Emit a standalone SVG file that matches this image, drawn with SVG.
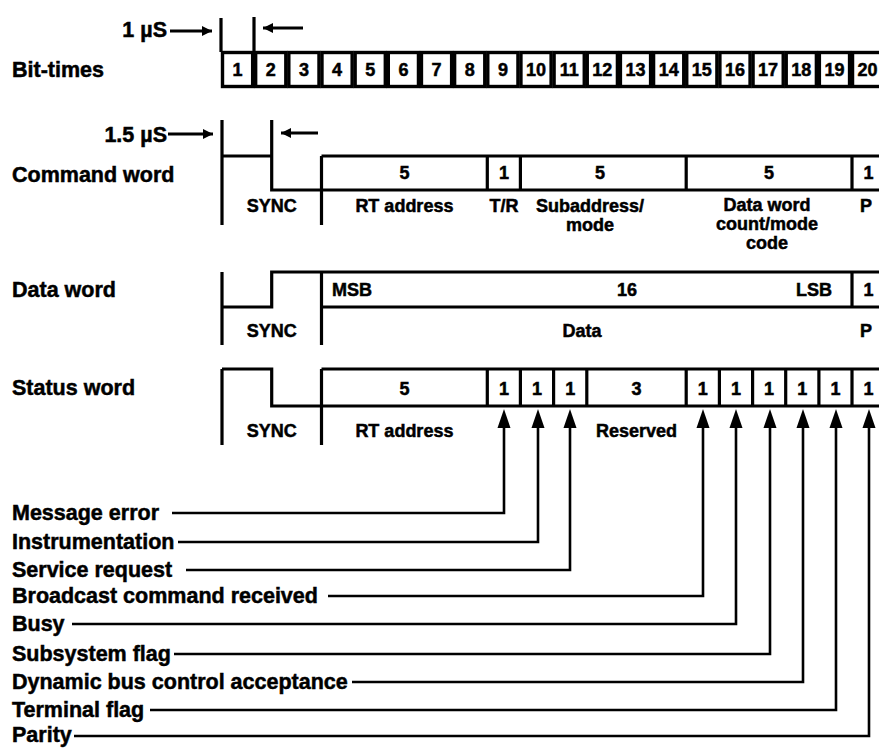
<svg xmlns="http://www.w3.org/2000/svg" width="879" height="749" viewBox="0 0 879 749">
<style>
.t{font-family:"Liberation Sans",Arial,sans-serif;font-weight:bold;fill:#000;stroke:#000;stroke-width:0.5}
.lbl{font-size:21.5px}
.n{font-size:18px;text-anchor:middle}
.m{font-size:18px;text-anchor:middle}
.ln{stroke:#000;stroke-width:3.2;fill:none}
.cell{stroke:#000;stroke-width:3.4;fill:#fff}
.ld{stroke:#000;stroke-width:2.6;fill:none}
</style>
<defs>
<marker id="ah" viewBox="0 0 10 10" refX="10" refY="5" markerWidth="12" markerHeight="10" markerUnits="userSpaceOnUse" orient="auto"><path d="M0,0L10,5L0,10z" fill="#000"/></marker>
</defs>
<rect width="879" height="749" fill="#fff"/>

<g id="bit-times">
<text class="t lbl" x="12" y="77">Bit-times</text>
<text class="t lbl" x="167" y="37" text-anchor="end">1 µS</text>
<path class="ln" d="M221,18V52M254,17V52"/>
<path class="ln" d="M170,31H212" marker-end="url(#ah)"/>
<path class="ln" d="M303,28H263" marker-end="url(#ah)"/>
<rect class="cell" x="222.5" y="52.5" width="30.16" height="34"/>
<rect class="cell" x="255.66" y="52.5" width="30.16" height="34"/>
<rect class="cell" x="288.82" y="52.5" width="30.16" height="34"/>
<rect class="cell" x="321.98" y="52.5" width="30.16" height="34"/>
<rect class="cell" x="355.14" y="52.5" width="30.16" height="34"/>
<rect class="cell" x="388.3" y="52.5" width="30.16" height="34"/>
<rect class="cell" x="421.46" y="52.5" width="30.16" height="34"/>
<rect class="cell" x="454.62" y="52.5" width="30.16" height="34"/>
<rect class="cell" x="487.78" y="52.5" width="30.16" height="34"/>
<rect class="cell" x="520.94" y="52.5" width="30.16" height="34"/>
<rect class="cell" x="554.1" y="52.5" width="30.16" height="34"/>
<rect class="cell" x="587.26" y="52.5" width="30.16" height="34"/>
<rect class="cell" x="620.42" y="52.5" width="30.16" height="34"/>
<rect class="cell" x="653.58" y="52.5" width="30.16" height="34"/>
<rect class="cell" x="686.74" y="52.5" width="30.16" height="34"/>
<rect class="cell" x="719.9" y="52.5" width="30.16" height="34"/>
<rect class="cell" x="753.06" y="52.5" width="30.16" height="34"/>
<rect class="cell" x="786.22" y="52.5" width="30.16" height="34"/>
<rect class="cell" x="819.38" y="52.5" width="30.16" height="34"/>
<rect class="cell" x="852.54" y="52.5" width="30.16" height="34"/>
<text class="t n" x="237.6" y="76">1</text>
<text class="t n" x="270.7" y="76">2</text>
<text class="t n" x="303.9" y="76">3</text>
<text class="t n" x="337.1" y="76">4</text>
<text class="t n" x="370.2" y="76">5</text>
<text class="t n" x="403.4" y="76">6</text>
<text class="t n" x="436.5" y="76">7</text>
<text class="t n" x="469.7" y="76">8</text>
<text class="t n" x="502.9" y="76">9</text>
<text class="t n" x="536" y="76">10</text>
<text class="t n" x="569.2" y="76">11</text>
<text class="t n" x="602.3" y="76">12</text>
<text class="t n" x="635.5" y="76">13</text>
<text class="t n" x="668.7" y="76">14</text>
<text class="t n" x="701.8" y="76">15</text>
<text class="t n" x="735" y="76">16</text>
<text class="t n" x="768.1" y="76">17</text>
<text class="t n" x="801.3" y="76">18</text>
<text class="t n" x="834.5" y="76">19</text>
<text class="t n" x="867.6" y="76">20</text>
</g>

<g id="command-word">
<text class="t lbl" x="12" y="182">Command word</text>
<text class="t lbl" x="167" y="142" text-anchor="end">1.5 µS</text>
<path class="ln" d="M168,134H213" marker-end="url(#ah)"/>
<path class="ln" d="M318,133H281" marker-end="url(#ah)"/>
<path class="ln" d="M222,120V225M222,156H271.7M271.7,120V190H885M321.5,156V225M321.5,156H885M487.3,156V190M520.4,156V190M686.2,156V190M852,156V190"/>
<text class="t n" x="404.4" y="179">5</text>
<text class="t n" x="503.9" y="179">1</text>
<text class="t n" x="600" y="179">5</text>
<text class="t n" x="769.1" y="179">5</text>
<text class="t n" x="868.6" y="179">1</text>
<text class="t m" x="271.7" y="212">SYNC</text>
<text class="t m" x="404.4" y="212">RT address</text>
<text class="t m" x="503.9" y="212">T/R</text>
<text class="t m" x="590" y="212">Subaddress/</text>
<text class="t m" x="590" y="231">mode</text>
<text class="t m" x="767" y="211">Data word</text>
<text class="t m" x="767" y="230">count/mode</text>
<text class="t m" x="767" y="249">code</text>
<text class="t m" x="866" y="212">P</text>
</g>

<g id="data-word">
<text class="t lbl" x="12" y="297">Data word</text>
<path class="ln" d="M222,272V345M222,307H271.7V272H885M321.5,272V345M321.5,307H885M852,272V307"/>
<text class="t" font-size="18" x="332" y="296">MSB</text>
<text class="t n" x="627" y="296">16</text>
<text class="t" font-size="18" x="832" y="296" text-anchor="end">LSB</text>
<text class="t n" x="868.6" y="296">1</text>
<text class="t m" x="271.7" y="337">SYNC</text>
<text class="t m" x="582" y="337">Data</text>
<text class="t m" x="866" y="337">P</text>
</g>

<g id="status-word">
<text class="t lbl" x="12" y="395">Status word</text>
<path class="ln" d="M222,369V445M222,369H271.7V406H885M321.5,369V445M321.5,369H885M487.3,369V406M520.4,369V406M553.6,369V406M586.8,369V406M686.2,369V406M719.4,369V406M752.6,369V406M785.7,369V406M818.9,369V406M852,369V406"/>
<text class="t n" x="404.4" y="394.5">5</text>
<text class="t n" x="503.9" y="394.5">1</text>
<text class="t n" x="537" y="394.5">1</text>
<text class="t n" x="570.2" y="394.5">1</text>
<text class="t n" x="636.5" y="394.5">3</text>
<text class="t n" x="702.8" y="394.5">1</text>
<text class="t n" x="736" y="394.5">1</text>
<text class="t n" x="769.1" y="394.5">1</text>
<text class="t n" x="802.3" y="394.5">1</text>
<text class="t n" x="835.5" y="394.5">1</text>
<text class="t n" x="868.6" y="394.5">1</text>
<text class="t m" x="271.7" y="437">SYNC</text>
<text class="t m" x="404.4" y="437">RT address</text>
<text class="t m" x="636.5" y="437">Reserved</text>
</g>

<g id="field-labels">
<text class="t lbl" x="12" y="520">Message error</text>
<text class="t lbl" x="12" y="549">Instrumentation</text>
<text class="t lbl" x="12" y="577">Service request</text>
<text class="t lbl" x="12" y="603">Broadcast command received</text>
<text class="t lbl" x="12" y="631">Busy</text>
<text class="t lbl" x="12" y="661">Subsystem flag</text>
<text class="t lbl" x="12" y="689">Dynamic bus control acceptance</text>
<text class="t lbl" x="12" y="717">Terminal flag</text>
<text class="t lbl" x="12" y="742" font-size="20.5">Parity</text>
</g>

<g id="connectors">
<path class="ld" d="M172,513H504V426"/>
<path class="ld" d="M178,542H538V426"/>
<path class="ld" d="M186,570H570V426"/>
<path class="ld" d="M328,596H703V426"/>
<path class="ld" d="M72,624H736V426"/>
<path class="ld" d="M174,654H770V426"/>
<path class="ld" d="M352,682H803V426"/>
<path class="ld" d="M150,710H836V426"/>
<path class="ld" d="M74,736H869V426"/>
<g fill="#000">
<path d="M504,409L510.5,428H497.5z"/>
<path d="M538,409L544.5,428H531.5z"/>
<path d="M570,409L576.5,428H563.5z"/>
<path d="M703,409L709.5,428H696.5z"/>
<path d="M736,409L742.5,428H729.5z"/>
<path d="M770,409L776.5,428H763.5z"/>
<path d="M803,409L809.5,428H796.5z"/>
<path d="M836,409L842.5,428H829.5z"/>
<path d="M869,409L875.5,428H862.5z"/>
</g>
</g>
</svg>
